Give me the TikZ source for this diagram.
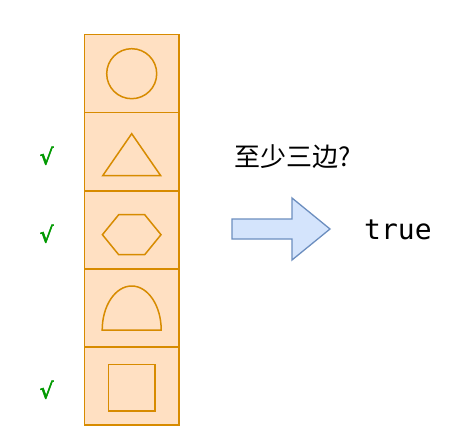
\documentclass[tikz,border=0pt]{standalone}
\usepackage{fontspec}
\usepackage{xcolor}
\usetikzlibrary{positioning, calc}
\newfontfamily\cjkfont{Noto Sans CJK SC}
\newfontfamily\codefont{DejaVu Sans Mono}
\newfontfamily\symbfont[FakeBold=2.5]{DejaVu Sans}
\definecolor{shapefill}{HTML}{FFE0C2}
\definecolor{shapeline}{HTML}{D78B00}
\definecolor{arrowfill}{HTML}{D4E4FC}
\definecolor{arrowline}{HTML}{6C8EBF}
\definecolor{tickgreen}{HTML}{009900}
\tikzset{cell/.style={draw=shapeline, fill=shapefill, line width=1.6pt, minimum width=94.7pt, minimum height=78pt, inner sep=0pt, outer sep=0pt}}
\tikzset{outline/.style={draw=shapeline, line width=1.5pt}}
\tikzset{tick/.style={text=tickgreen, inner sep=0pt, font=\symbfont\fontsize{22}{22}\selectfont}}

\begin{document}
\begin{tikzpicture}[x=1pt, y=-1pt]
    \useasboundingbox (0,0) rectangle (470,446);
    % column of shapes
    \foreach \n in {1, ..., 5}{
        \node[cell] (C\n) at (131.7, {73.7+78*(\n-1)}) {};
    }
    \node[outline, circle, minimum size=50pt, inner sep=0pt] (circ) at (C1) {};
    \draw[outline] ($(C2)+(0,-18)$) -- ($(C2)+(29,24)$) -- ($(C2)+(-29,24)$) -- cycle;
    \draw[outline] ($(C3)+(-29.3,5)$) -- ($(C3)+(-13,-15)$) -- ($(C3)+(13,-15)$) -- ($(C3)+(29.3,5)$) -- ($(C3)+(13,25)$) -- ($(C3)+(-13,25)$) -- cycle;
    \draw[outline] ($(C4)+(-29.5,22.3)$) .. controls ($(C4)+(-29.5,-2)$) and ($(C4)+(-16.3,-21.7)$) .. ($(C4)+(0,-21.7)$)
        .. controls ($(C4)+(16.3,-21.7)$) and ($(C4)+(29.5,-2)$) .. ($(C4)+(29.5,22.3)$) -- cycle;
    \node[outline, minimum size=46.5pt, inner sep=0pt] (sq) at ($(C5)+(0,2)$) {};

    % ticks
    \foreach \n in {2, 3, 5}{
        \node[tick] (T\n) at ($(C\n)+(-85,4)$) {√};
    }

    \node[anchor=west, inner sep=0pt, font=\cjkfont\fontsize{26}{26}\selectfont] (question) at (234,157) {至少三边?};
    \draw[fill=arrowfill, draw=arrowline, line width=1.3pt] (232,219) -- (292,219) -- (292,198) -- (330,229) -- (292,260) -- (292,239) -- (232,239) -- cycle;
    \node[anchor=west, inner sep=0pt, font=\codefont\fontsize{28}{28}\selectfont] (result) at (364,230) {true};
\end{tikzpicture}
\end{document}
